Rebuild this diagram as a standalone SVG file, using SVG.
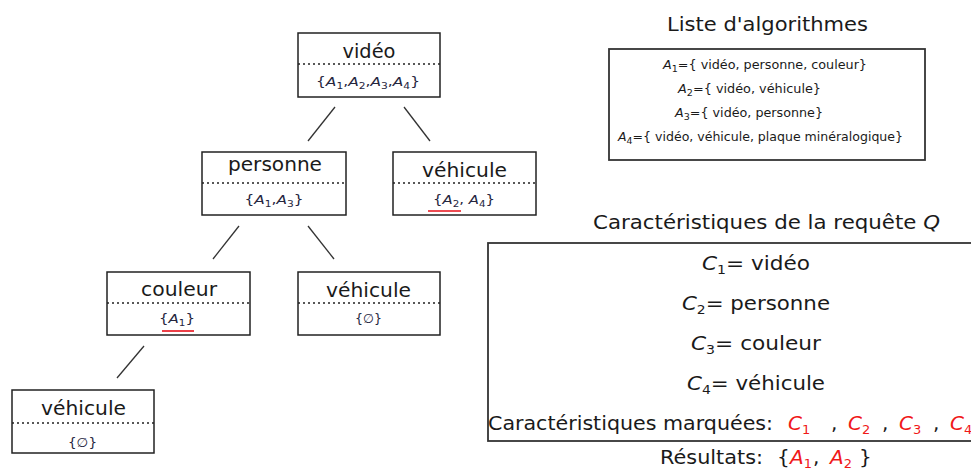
<svg xmlns="http://www.w3.org/2000/svg" width="971" height="472" viewBox="0 0 971 472">
<style>
text{font-family:"DejaVu Sans","Liberation Sans",sans-serif;fill:#1a1a1a}
.box{fill:#fff;stroke:#222;stroke-width:1.5}
.dot{stroke:#222;stroke-width:1.3;stroke-dasharray:2 3}
.title{font-size:20px;text-anchor:middle}
.sub{font-size:13px;text-anchor:middle;fill:#26263e}
.m{font-style:italic}
.s{font-size:9px}
.conn line{stroke:#333;stroke-width:1.3}
.ul{stroke:#e8101a;stroke-width:1.6}
.big{font-size:20px}
.lst{font-size:12px;text-anchor:middle}
.red{fill:#f01818}
.frame{fill:none;stroke:#333;stroke-width:1.8}
</style>
<rect width="971" height="472" fill="#fff"/>

<g class="conn" id="connectors">
<line x1="335" y1="107" x2="308" y2="141"/>
<line x1="404" y1="107" x2="430" y2="141"/>
<line x1="239" y1="226" x2="213" y2="259"/>
<line x1="308" y1="226" x2="334" y2="259"/>
<line x1="144" y1="346" x2="117" y2="378"/>
</g>

<g id="n-video">
<rect class="box" x="298" y="33" width="142" height="64"/>
<line class="dot" x1="298" y1="64" x2="440" y2="64"/>
<text class="title" x="369" y="58" textLength="53" lengthAdjust="spacingAndGlyphs">vidéo</text>
<text class="sub" x="368" y="86" textLength="104" lengthAdjust="spacingAndGlyphs">{<tspan class="m">A</tspan><tspan class="s" dy="3">1</tspan><tspan dy="-3">,</tspan><tspan class="m">A</tspan><tspan class="s" dy="3">2</tspan><tspan dy="-3">,</tspan><tspan class="m">A</tspan><tspan class="s" dy="3">3</tspan><tspan dy="-3">,</tspan><tspan class="m">A</tspan><tspan class="s" dy="3">4</tspan><tspan dy="-3">}</tspan></text>
</g>

<g id="n-personne">
<rect class="box" x="202" y="152" width="144" height="63"/>
<line class="dot" x1="202" y1="183" x2="346" y2="183"/>
<text class="title" x="275" y="171" textLength="94" lengthAdjust="spacingAndGlyphs">personne</text>
<text class="sub" x="274" y="204" textLength="59" lengthAdjust="spacingAndGlyphs">{<tspan class="m">A</tspan><tspan class="s" dy="3">1</tspan><tspan dy="-3">,</tspan><tspan class="m">A</tspan><tspan class="s" dy="3">3</tspan><tspan dy="-3">}</tspan></text>
</g>

<g id="n-vehicule-r">
<rect class="box" x="393" y="152" width="143" height="63"/>
<line class="dot" x1="393" y1="183" x2="536" y2="183"/>
<text class="title" x="464.5" y="177" textLength="85" lengthAdjust="spacingAndGlyphs">véhicule</text>
<text class="sub" x="464" y="204" textLength="62" lengthAdjust="spacingAndGlyphs">{<tspan class="m">A</tspan><tspan class="s" dy="3">2</tspan><tspan dy="-3">, </tspan><tspan class="m">A</tspan><tspan class="s" dy="3">4</tspan><tspan dy="-3">}</tspan></text>
<line class="ul" x1="428" y1="211" x2="461" y2="211"/>
</g>

<g id="n-couleur">
<rect class="box" x="107" y="272" width="143" height="63"/>
<line class="dot" x1="107" y1="303" x2="250" y2="303"/>
<text class="title" x="179" y="296" textLength="76" lengthAdjust="spacingAndGlyphs">couleur</text>
<text class="sub" x="177" y="323" textLength="36" lengthAdjust="spacingAndGlyphs">{<tspan class="m">A</tspan><tspan class="s" dy="3">1</tspan><tspan dy="-3">}</tspan></text>
<line class="ul" x1="162" y1="331" x2="194" y2="331"/>
</g>

<g id="n-vehicule-m">
<rect class="box" x="298" y="272" width="142" height="63"/>
<line class="dot" x1="298" y1="303" x2="440" y2="303"/>
<text class="title" x="368.5" y="297" textLength="85" lengthAdjust="spacingAndGlyphs">véhicule</text>
<text class="sub" x="368.5" y="323" textLength="27" lengthAdjust="spacingAndGlyphs">{∅}</text>
</g>

<g id="n-vehicule-b">
<rect class="box" x="12" y="390" width="142" height="63"/>
<line class="dot" x1="12" y1="423" x2="154" y2="423"/>
<text class="title" x="83.5" y="415" textLength="85" lengthAdjust="spacingAndGlyphs">véhicule</text>
<text class="sub" x="82.5" y="447" textLength="29" lengthAdjust="spacingAndGlyphs">{∅}</text>
</g>

<g id="algo-list">
<text x="767.5" y="31" font-size="20" text-anchor="middle" textLength="201" lengthAdjust="spacingAndGlyphs">Liste d'algorithmes</text>
<rect class="frame" x="609" y="49" width="316" height="111"/>
<text class="lst" x="765" y="69" textLength="204" lengthAdjust="spacingAndGlyphs"><tspan class="m">A</tspan><tspan class="s" dy="3">1</tspan><tspan dy="-3">={ vidéo, personne, couleur}</tspan></text>
<text class="lst" x="749.5" y="93" textLength="143" lengthAdjust="spacingAndGlyphs"><tspan class="m">A</tspan><tspan class="s" dy="3">2</tspan><tspan dy="-3">={ vidéo, véhicule}</tspan></text>
<text class="lst" x="749" y="117" textLength="148" lengthAdjust="spacingAndGlyphs"><tspan class="m">A</tspan><tspan class="s" dy="3">3</tspan><tspan dy="-3">={ vidéo, personne}</tspan></text>
<text class="lst" x="760.5" y="141" textLength="285" lengthAdjust="spacingAndGlyphs"><tspan class="m">A</tspan><tspan class="s" dy="3">4</tspan><tspan dy="-3">={ vidéo, véhicule, plaque minéralogique}</tspan></text>
</g>

<g id="query">
<text class="big" x="766.5" y="229" text-anchor="middle" textLength="347" lengthAdjust="spacingAndGlyphs">Caractéristiques de la requête <tspan class="m">Q</tspan></text>
<rect class="frame" x="488" y="243" width="560" height="198"/>
<text class="big" x="756" y="270" text-anchor="middle" textLength="108" lengthAdjust="spacingAndGlyphs"><tspan class="m">C</tspan><tspan font-size="13" dy="4">1</tspan><tspan dy="-4">= vidéo</tspan></text>
<text class="big" x="756" y="310" text-anchor="middle" textLength="148" lengthAdjust="spacingAndGlyphs"><tspan class="m">C</tspan><tspan font-size="13" dy="4">2</tspan><tspan dy="-4">= personne</tspan></text>
<text class="big" x="756" y="350" text-anchor="middle" textLength="130" lengthAdjust="spacingAndGlyphs"><tspan class="m">C</tspan><tspan font-size="13" dy="4">3</tspan><tspan dy="-4">= couleur</tspan></text>
<text class="big" x="756" y="390" text-anchor="middle" textLength="138" lengthAdjust="spacingAndGlyphs"><tspan class="m">C</tspan><tspan font-size="13" dy="4">4</tspan><tspan dy="-4">= véhicule</tspan></text>
<text class="big" x="488" y="430" textLength="285" lengthAdjust="spacingAndGlyphs">Caractéristiques marquées:</text>
<text class="big red" x="788" y="430"><tspan class="m">C</tspan><tspan font-size="13" dy="4">1</tspan></text>
<text class="big" x="831" y="430">,</text>
<text class="big red" x="848" y="430"><tspan class="m">C</tspan><tspan font-size="13" dy="4">2</tspan></text>
<text class="big" x="882" y="430">,</text>
<text class="big red" x="899" y="430"><tspan class="m">C</tspan><tspan font-size="13" dy="4">3</tspan></text>
<text class="big" x="933" y="430">,</text>
<text class="big red" x="950" y="430"><tspan class="m">C</tspan><tspan font-size="13" dy="4">4</tspan></text>
<text class="big" x="660" y="464" textLength="103" lengthAdjust="spacingAndGlyphs">Résultats:</text>
<text class="big" x="777" y="464">{</text>
<text class="big red" x="790" y="464"><tspan class="m">A</tspan><tspan font-size="13" dy="4">1</tspan></text>
<text class="big" x="813" y="464">,</text>
<text class="big red" x="830" y="464"><tspan class="m">A</tspan><tspan font-size="13" dy="4">2</tspan></text>
<text class="big" x="859" y="464">}</text>
</g>
</svg>
